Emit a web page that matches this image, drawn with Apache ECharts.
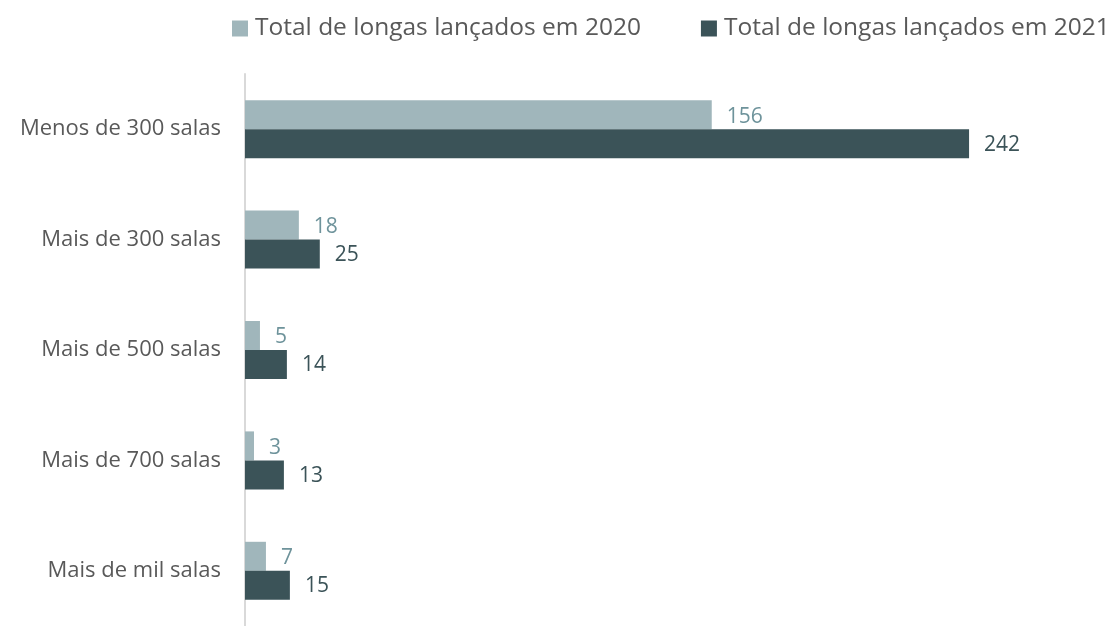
<!DOCTYPE html>
<html>
<head>
<meta charset="utf-8">
<script src="https://cdn.jsdelivr.net/npm/echarts@6/dist/echarts.min.js"></script>
<style>html,body{margin:0;padding:0;background:#fff}#c{width:1116px;height:626px}</style>
</head>
<body>
<div id="c"></div>
<script>
const categories = ['Menos de 300 salas', 'Mais de 300 salas', 'Mais de 500 salas', 'Mais de 700 salas', 'Mais de mil salas'];
const seriesNames = ['Total de longas lançados em 2020', 'Total de longas lançados em 2021'];
const values2020 = [156, 18, 5, 3, 7];
const values2021 = [242, 25, 14, 13, 15];

const FONT = '"Open Sans", sans-serif';
const chart = echarts.init(document.getElementById('c'), null, {renderer: 'canvas'});
chart.setOption({
  animation: false,
  backgroundColor: '#ffffff',
  textStyle: {fontFamily: FONT},
  legend: {
    left: 232, top: 16, width: 884, padding: 0,
    icon: 'rect', itemWidth: 16, itemHeight: 16, itemGap: 60,
    textStyle: {fontFamily: FONT, fontSize: 24.5, color: '#595959', padding: [0, 0, 0, 2]},
    data: seriesNames
  },
  grid: {left: 245, top: 74, width: 748, height: 560, containLabel: false},
  xAxis: {
    type: 'value', min: 0, max: 250, show: false
  },
  yAxis: {
    type: 'category', inverse: true, data: categories,
    axisLine: {show: true, lineStyle: {color: '#d9d9d9', width: 2}},
    axisTick: {show: false},
    axisLabel: {fontFamily: FONT, fontSize: 22, color: '#595959', margin: 24}
  },
  series: [
    {
      name: seriesNames[0], type: 'bar', data: values2020, barWidth: 29, barGap: '0%',
      itemStyle: {color: '#a0b6bb'},
      label: {show: true, position: 'right', distance: 15, fontFamily: FONT, fontSize: 21, color: '#6e939b', offset: [0, 2]}
    },
    {
      name: seriesNames[1], type: 'bar', data: values2021, barWidth: 29, barGap: '0%',
      itemStyle: {color: '#3b5358'},
      label: {show: true, position: 'right', distance: 15, fontFamily: FONT, fontSize: 21, color: '#3b5358', offset: [0, 1]}
    }
  ]
});
</script>
</body>
</html>
